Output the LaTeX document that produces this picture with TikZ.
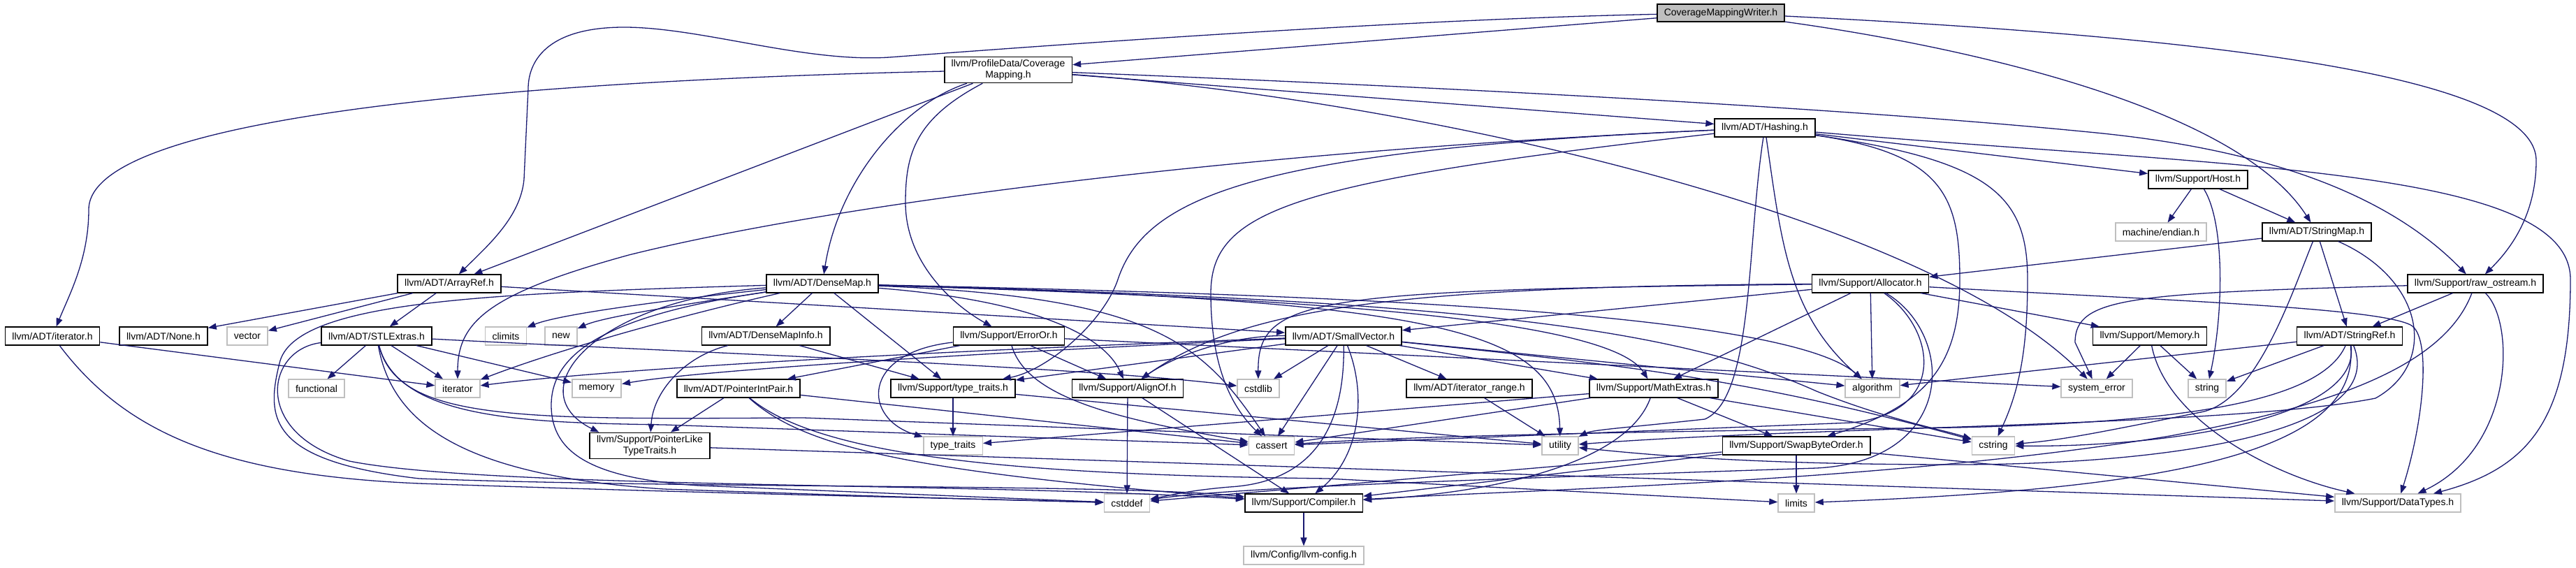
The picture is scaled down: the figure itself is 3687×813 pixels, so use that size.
\documentclass[tikz,border=0pt]{standalone}
\usepackage{fontspec}
\setmainfont{Liberation Sans}
\usetikzlibrary{arrows.meta}
\definecolor{edgeblue}{HTML}{191970}
\definecolor{sysgrey}{HTML}{BFBFBF}

\begin{document}
\begin{tikzpicture}[x=1pt, y=-1pt, font=\fontsize{14}{16}\selectfont,
      >={Triangle[length=12pt,width=9pt]},
      hdr/.style={draw=black, fill=white, line width=1.6pt, minimum height=25.5pt,
                  inner xsep=10pt, inner ysep=4pt, align=center},
      sys/.style={hdr, draw=sysgrey},
      dep/.style={->, draw=edgeblue, line width=1.3pt}]
    \fill[white] (0,0) rectangle (3687,813);
    \useasboundingbox (0,0) rectangle (3687,813);

    \node[hdr, fill=sysgrey] (cmw) at (2463,18.5) {CoverageMappingWriter.h};
    \node[hdr] (cm) at (1443,100) {llvm/ProfileData/Coverage\\Mapping.h};
    \node[hdr] (hashing) at (2526,183) {llvm/ADT/Hashing.h};
    \node[hdr] (host) at (3146,257) {llvm/Support/Host.h};
    \node[sys] (endian) at (3093,332) {machine/endian.h};
    \node[hdr] (smap) at (3316,332) {llvm/ADT/StringMap.h};
    \node[hdr] (arrayref) at (643,406) {llvm/ADT/ArrayRef.h};
    \node[hdr] (densemap) at (1177,406) {llvm/ADT/DenseMap.h};
    \node[hdr] (alloc) at (2677,406) {llvm/Support/Allocator.h};
    \node[hdr] (rawos) at (3543,406) {llvm/Support/raw\_ostream.h};

    \node[hdr] (iterh) at (75,481) {llvm/ADT/iterator.h};
    \node[hdr] (noneh) at (234,481) {llvm/ADT/None.h};
    \node[sys] (vector) at (354,481) {vector};
    \node[hdr] (stlx) at (539,481) {llvm/ADT/STLExtras.h};
    \node[sys] (climits) at (724,481) {climits};
    \node[sys] (new) at (803,481) {new};
    \node[hdr] (dmi) at (1096,481) {llvm/ADT/DenseMapInfo.h};
    \node[hdr] (errorOr) at (1444,481) {llvm/Support/ErrorOr.h};
    \node[hdr] (smallvec) at (1923,481) {llvm/ADT/SmallVector.h};
    \node[hdr] (memoryh) at (3077,481) {llvm/Support/Memory.h};
    \node[hdr] (strref) at (3363,481) {llvm/ADT/StringRef.h};

    \node[sys] (functional) at (453,556) {functional};
    \node[sys] (iterator) at (655,556) {iterator};
    \node[sys] (memory) at (854,556) {memory};
    \node[hdr] (pip) at (1057,556) {llvm/ADT/PointerIntPair.h};
    \node[hdr] (tth) at (1364,556) {llvm/Support/type\_traits.h};
    \node[hdr] (alignof) at (1614,556) {llvm/Support/AlignOf.h};
    \node[sys] (cstdlib) at (1801,556) {cstdlib};
    \node[hdr] (itrange) at (2103,556) {llvm/ADT/iterator\_range.h};
    \node[hdr] (mathx) at (2367,556) {llvm/Support/MathExtras.h};
    \node[sys] (algorithm) at (2680,556) {algorithm};
    \node[sys] (syserr) at (3001,556) {system\_error};
    \node[sys] (string) at (3159,556) {string};

    \node[hdr] (plt) at (930,638) {llvm/Support/PointerLike\\TypeTraits.h};
    \node[sys] (typetraits) at (1364,638) {type\_traits};
    \node[sys] (cassert) at (1820,638) {cassert};
    \node[sys] (utility) at (2233,638) {utility};
    \node[hdr] (swapbo) at (2571,638) {llvm/Support/SwapByteOrder.h};
    \node[sys] (cstring) at (2853,638) {cstring};

    \node[sys] (cstddef) at (1613,720) {cstddef};
    \node[hdr] (compiler) at (1866,720) {llvm/Support/Compiler.h};
    \node[sys] (limits) at (2571,720) {limits};
    \node[sys] (datatypes) at (3432,720) {llvm/Support/DataTypes.h};
    \node[sys] (llvmcfg) at (1866,795) {llvm/Config/llvm-config.h};

    \foreach \x/\y in {cmw/cm, cm/arrayref, cm/hashing, arrayref/noneh, arrayref/vector,
        arrayref/stlx, arrayref/smallvec, iterh/iterator, stlx/functional, stlx/iterator,
        stlx/memory, densemap/dmi, densemap/tth, dmi/tth, errorOr/pip, errorOr/alignof,
        errorOr/syserr, pip/plt, pip/cassert, plt/datatypes, tth/typetraits, tth/utility,
        alignof/cstddef, alignof/compiler, smallvec/itrange, smallvec/cstdlib,
        smallvec/cassert, smallvec/tth, smallvec/mathx, smallvec/algorithm, itrange/utility,
        mathx/swapbo, mathx/cassert, mathx/typetraits, mathx/cstring, swapbo/limits,
        swapbo/compiler, swapbo/cstddef, swapbo/datatypes, compiler/llvmcfg, alloc/smallvec,
        alloc/mathx, alloc/memoryh, alloc/algorithm, memoryh/syserr, memoryh/string,
        host/endian, host/smap, hashing/host, smap/strref, smap/alloc, strref/string,
        strref/algorithm, rawos/strref}
      \draw[dep] (\x) -- (\y);

    % CoverageMappingWriter.h
    \draw[dep] (cmw) .. controls (2000,28) and (1500,65) .. (1273,82)
      .. controls (1150,90) and (1000,38) .. (890,39) .. controls (780,40) and (756,90) .. (756,127)
      -- (750,257) .. controls (745,310) and (700,350) .. (arrayref);
    \draw[dep] (cmw) .. controls (2800,65) and (3200,150) .. (smap);
    \draw[dep] (cmw) .. controls (3100,50) and (3630,100) .. (3630,230)
      .. controls (3630,300) and (3600,350) .. (rawos);

    % CoverageMapping.h
    \draw[dep] (cm) .. controls (900,112) and (127,150) .. (127,300)
      .. controls (127,370) and (100,420) .. (iterh);
    \draw[dep] (cm) .. controls (1290,150) and (1200,260) .. (densemap);
    \draw[dep] (cm) .. controls (1310,170) and (1296,220) .. (1296,290)
      .. controls (1296,380) and (1370,440) .. (errorOr);
    \draw[dep] (cm) .. controls (2200,130) and (2700,160) .. (3000,190)
      .. controls (3250,215) and (3420,280) .. (rawos);
    \draw[dep] (cm) .. controls (2000,140) and (2750,300) .. (syserr);

    % ADT/iterator.h and STLExtras.h
    \draw[dep] (iterh) .. controls (180,620) and (320,680) .. (600,692)
      .. controls (1000,706) and (1400,714) .. (cstddef);
    \draw[dep] (stlx) .. controls (1000,505) and (1550,525) .. (cstdlib);
    \draw[dep] (stlx) .. controls (380,500) and (360,620) .. (500,660)
      .. controls (700,700) and (1400,690) .. (compiler);
    \draw[dep] (stlx) .. controls (560,600) and (650,680) .. (950,700)
      .. controls (1300,712) and (1450,716) .. (cstddef);
    \draw[dep] (stlx) .. controls (570,600) and (750,605) .. (950,608) -- (cassert);
    \draw[dep] (stlx) .. controls (570,605) and (750,600) .. (1150,598) -- (utility);

    % DenseMap.h
    \draw[dep] (densemap) .. controls (1480,430) and (1580,480) .. (alignof);
    \draw[dep] (densemap) .. controls (850,430) and (740,560) .. ([xshift=14pt]plt.north west);
    \draw[dep] (densemap) .. controls (700,420) and (420,430) .. (400,520)
      .. controls (380,600) and (385,660) .. (600,685)
      .. controls (1000,700) and (1600,692) .. (compiler);
    \draw[dep] (densemap) .. controls (880,450) and (789,500) .. (789,580)
      .. controls (789,650) and (850,685) .. (1000,695) -- (cstddef);
    \draw[dep] (densemap) .. controls (980,450) and (800,500) .. (iterator);
    \draw[dep] (densemap) .. controls (950,430) and (800,450) .. (climits);
    \draw[dep] (densemap) .. controls (950,440) and (860,455) .. (new);
    \draw[dep] (densemap) .. controls (1650,425) and (1720,490) .. (cassert);
    \draw[dep] (densemap) .. controls (1800,420) and (2550,440) .. (algorithm);
    \draw[dep] (densemap) .. controls (1800,425) and (2300,450) .. (mathx);
    \draw[dep] (densemap) .. controls (2050,430) and (2230,470) .. (utility);
    \draw[dep] (densemap) .. controls (2100,430) and (2400,470) .. (2600,560)
      .. controls (2700,600) and (2780,615) .. (cstring);

    % DenseMapInfo.h, ErrorOr.h, PointerIntPair.h
    \draw[dep] (dmi) .. controls (980,510) and (935,560) .. (plt);
    \draw[dep] (errorOr) .. controls (1230,505) and (1235,600) .. (typetraits);
    \draw[dep] (errorOr) .. controls (1470,570) and (1600,600) .. (cassert);
    \draw[dep] (pip) .. controls (1150,640) and (1300,675) .. (compiler);
    \draw[dep] (pip) .. controls (1180,660) and (1500,680) .. (1900,685) -- (limits);

    % SmallVector.h, MathExtras.h
    \draw[dep] (smallvec) .. controls (1955,560) and (1950,650) .. (compiler);
    \draw[dep] (smallvec) .. controls (1925,610) and (1880,690) .. (1760,697)
      .. controls (1700,702) and (1670,710) .. (cstddef);
    \draw[dep] (smallvec) .. controls (1760,480) and (1680,510) .. (alignof);
    \draw[dep] (smallvec) .. controls (1400,500) and (900,525) .. (iterator);
    \draw[dep] (smallvec) .. controls (1400,505) and (1000,530) .. (memory);
    \draw[dep] (smallvec) .. controls (2300,520) and (2500,540) .. (cstring);
    \draw[dep] (mathx) .. controls (2330,660) and (2150,705) .. (compiler);

    % Allocator.h, Memory.h, Host.h
    \draw[dep] (alloc) .. controls (2000,410) and (1780,440) .. (alignof);
    \draw[dep] (alloc) .. controls (1880,415) and (1800,425) .. (cstdlib);
    \draw[dep] (alloc) .. controls (3100,430) and (3400,440) .. (3450,465)
      .. controls (3480,480) and (3470,600) .. (datatypes);
    \draw[dep] (alloc) .. controls (2770,470) and (2790,590) .. (2650,605) -- (cassert);
    \draw[dep] (alloc) .. controls (2800,480) and (2800,660) .. (2600,670)
      .. controls (2000,690) and (1750,700) .. (cstddef);
    \draw[dep] (memoryh) .. controls (3100,600) and (3250,680) .. (datatypes);
    \draw[dep] (host) .. controls (3185,320) and (3182,450) .. (string);

    % StringMap.h, StringRef.h, raw_ostream.h
    \draw[dep] (smap) .. controls (3280,420) and (3230,575) .. (3150,590)
      .. controls (3000,620) and (2950,630) .. (cstring);
    \draw[dep] (smap) .. controls (3470,400) and (3490,520) .. (3400,570)
      .. controls (3200,610) and (2600,610) .. (utility);
    \draw[dep] (strref) .. controls (3320,580) and (3100,605) .. (2800,612)
      .. controls (2300,618) and (2000,625) .. (cassert);
    \draw[dep] (strref) .. controls (3380,600) and (3100,640) .. (cstring);
    \draw[dep] (strref) .. controls (3420,620) and (3100,665) .. (2800,665)
      .. controls (2500,665) and (2350,650) .. (utility);
    \draw[dep] (strref) .. controls (3380,650) and (3100,700) .. (limits);
    \draw[dep] (rawos) .. controls (3050,420) and (2970,425) .. (2970,490) -- (syserr);
    \draw[dep] (rawos) .. controls (3500,520) and (3350,580) .. (3100,625)
      .. controls (2700,690) and (2200,700) .. (compiler);
    \draw[dep] (rawos) .. controls (3600,460) and (3600,640) .. (datatypes);

    % Hashing.h
    \draw[dep] (hashing) .. controls (3200,240) and (3679,240) .. (3679,400)
      .. controls (3679,600) and (3620,670) .. (datatypes);
    \draw[dep] (hashing) .. controls (2780,220) and (2805,280) .. (2805,400)
      .. controls (2805,520) and (2760,580) .. (swapbo);
    \draw[dep] (hashing) .. controls (2850,230) and (2902,280) .. (2902,400)
      .. controls (2902,500) and (2890,560) .. (cstring);
    \draw[dep] (hashing) .. controls (1800,215) and (1640,280) .. (1600,400)
      .. controls (1580,460) and (1500,530) .. (tth);
    \draw[dep] (hashing) .. controls (1800,215) and (1200,290) .. (900,365)
      .. controls (700,420) and (655,460) .. (iterator);
    \draw[dep] (hashing) .. controls (1850,260) and (1733,300) .. (1733,420)
      .. controls (1733,520) and (1760,580) .. (cassert);
    \draw[dep] (hashing) .. controls (2500,350) and (2510,570) .. (2440,600)
      .. controls (2330,612) and (2280,615) .. (utility);
    \draw[dep] (hashing) .. controls (2550,350) and (2560,450) .. (algorithm);
  \end{tikzpicture}
\end{document}
